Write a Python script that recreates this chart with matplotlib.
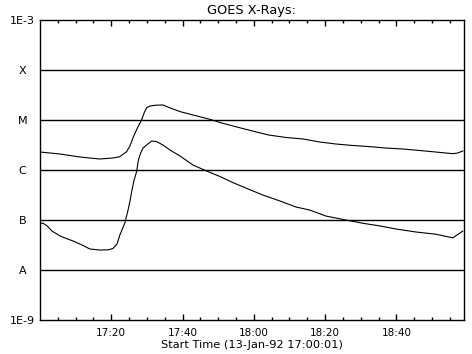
import matplotlib
matplotlib.use("Agg")
import matplotlib.pyplot as plt
import numpy as np

# minutes after 17:00:01
t_long = [0, 5.6, 11.2, 16.8, 20.5, 22.4, 24.3, 25.2, 26.2, 27.3, 28.5, 29.2, 29.9, 30.9, 32.3,
          34.5, 36.5, 39.3, 43.5, 47.7, 51, 54.1, 59.7, 64.2, 69, 73.8, 78.5, 83, 87.8, 92.3,
          97, 101.8, 106.6, 111, 115.8, 117.2, 118.6]
flux_long = [2.29e-6, 2.09e-6, 1.82e-6, 1.66e-6, 1.74e-6, 1.85e-6, 2.33e-6, 3.0e-6, 4.6e-6, 6.9e-6,
             1.0e-5, 1.38e-5, 1.76e-5, 1.9e-5, 1.97e-5, 2.0e-5, 1.74e-5, 1.47e-5, 1.23e-5, 1.03e-5,
             8.7e-6, 7.6e-6, 6.0e-6, 5.0e-6, 4.47e-6, 4.17e-6, 3.63e-6, 3.31e-6, 3.09e-6, 2.94e-6,
             2.75e-6, 2.63e-6, 2.45e-6, 2.29e-6, 2.12e-6, 2.19e-6, 2.4e-6]

t_short = [0, 0.8, 2, 3.4, 5.6, 7.6, 9.3, 11.8, 14, 16.8, 19.1, 20.5, 21.6, 22.4, 23.8, 24.7, 25.2,
           25.8, 26.4, 27.1, 27.6, 28.2, 28.9, 29.9, 31.3, 32.7, 34.5, 36.5, 39.3, 42.9, 46.8, 50.5,
           54.1, 58.3, 62.5, 67.3, 71.8, 75.7, 80.2, 85.8, 90.6, 95.4, 99.9, 105.5, 111, 115.8, 118.6]
flux_short = [8.3e-8, 8.7e-8, 7.6e-8, 6.0e-8, 4.8e-8, 4.2e-8, 3.8e-8, 3.16e-8, 2.63e-8, 2.51e-8,
              2.53e-8, 2.7e-8, 3.3e-8, 5.0e-8, 8.7e-8, 1.58e-7, 2.3e-7, 4.0e-7, 6.3e-7, 9.3e-7,
              1.58e-6, 2.15e-6, 2.75e-6, 3.16e-6, 3.8e-6, 3.7e-6, 3.16e-6, 2.5e-6, 1.9e-6, 1.26e-6,
              9.5e-7, 7.4e-7, 5.6e-7, 4.2e-7, 3.16e-7, 2.4e-7, 1.82e-7, 1.58e-7, 1.2e-7, 1.0e-7,
              8.6e-8, 7.6e-8, 6.6e-8, 5.75e-8, 5.2e-8, 4.4e-8, 6.0e-8]

y_ticks = [1e-9, 1e-8, 1e-7, 1e-6, 1e-5, 1e-4, 1e-3]
y_labels = ["1E-9", "A", "B", "C", "M", "X", "1E-3"]
x_major = [19.98, 39.98, 59.98, 79.98, 99.98]
x_labels = ["17:20", "17:40", "18:00", "18:20", "18:40"]

fig = plt.figure(figsize=(4.72, 3.54), dpi=100)
ax = fig.add_axes([40/472, (354-320)/354, (463.5-40)/472, 300/354])

ax.plot(t_long, flux_long, color="black", lw=0.8)
ax.plot(t_short, flux_short, color="black", lw=0.8)

ax.set_yscale("log")
ax.set_ylim(1e-9, 1e-3)
ax.set_xlim(0, 118.8)

for v in y_ticks[1:-1]:
    ax.axhline(v, color="black", lw=1.0)

ax.set_yticks(y_ticks)
ax.set_yticklabels(y_labels, ha="center")
ax.yaxis.set_minor_locator(matplotlib.ticker.NullLocator())
ax.tick_params(axis="y", length=0, pad=12.6, labelsize=8)

ax.set_xticks(x_major)
ax.set_xticklabels(x_labels)
ax.set_xticks(np.arange(4.98, 118.8, 5), minor=True)
ax.tick_params(axis="x", which="both", direction="in", top=True, labelsize=7.5, pad=6)
ax.tick_params(axis="x", which="major", length=4.3, width=1)
ax.tick_params(axis="x", which="minor", length=2.2, width=1)

for s in ax.spines.values():
    s.set_linewidth(1.0)

ax.set_title("GOES X-Rays:", fontsize=9.3, pad=4)
ax.set_xlabel("Start Time (13-Jan-92 17:00:01)", fontsize=8.2, labelpad=1)

fig.savefig("out.png", dpi=100)
